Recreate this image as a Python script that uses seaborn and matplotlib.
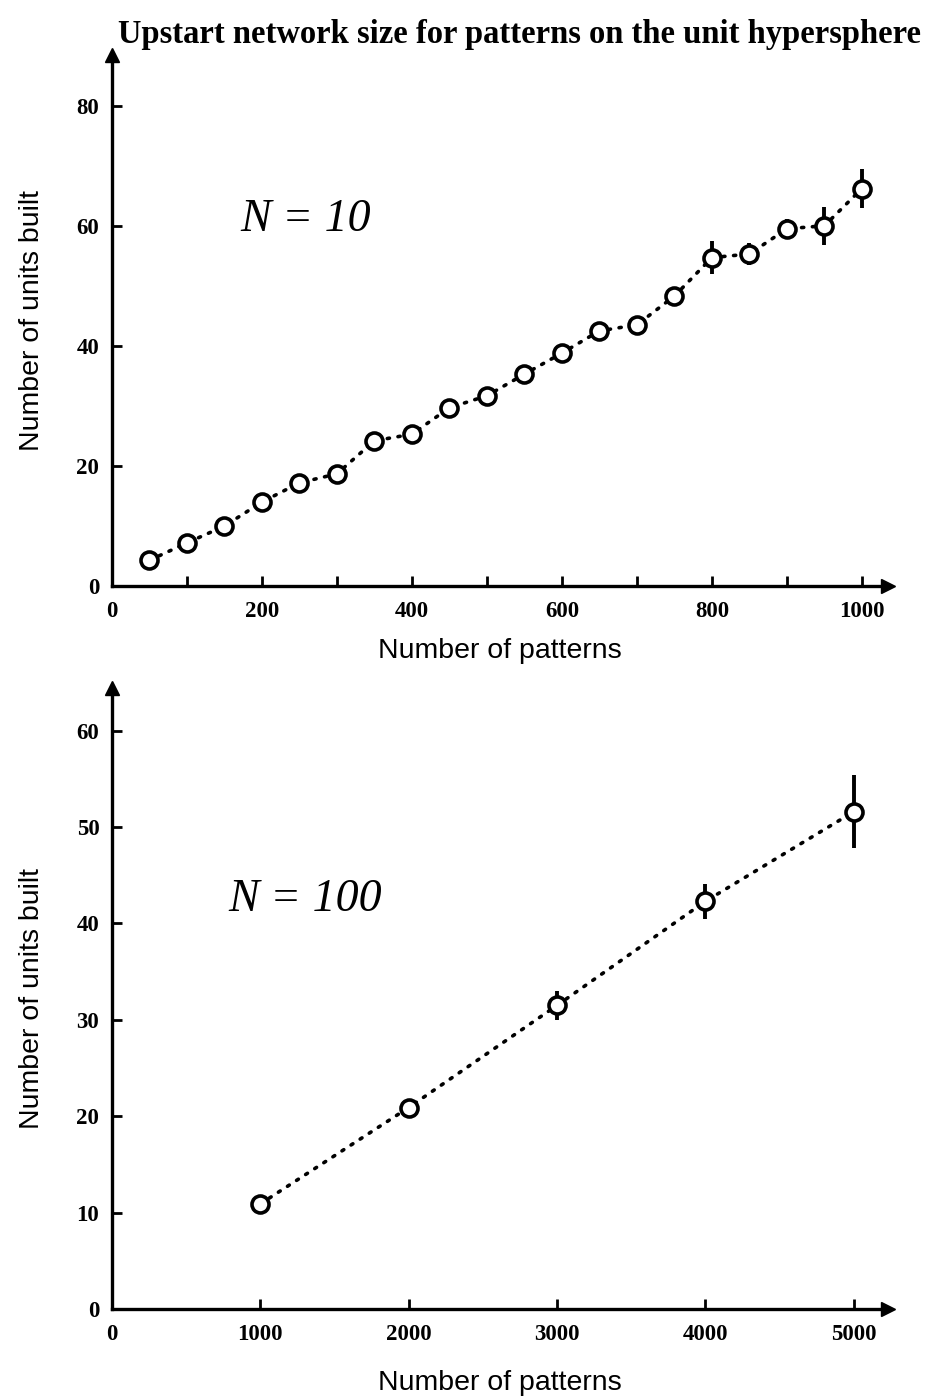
import matplotlib
matplotlib.use("Agg")
import matplotlib.pyplot as plt
import seaborn as sns
import pandas as pd

# ---- data ----
patterns_n10 = [50, 100, 150, 200, 250, 300, 350, 400, 450, 500,
                550, 600, 650, 700, 750, 800, 850, 900, 950, 1000]
units_n10 = [4.3, 7.2, 10.0, 14.0, 17.2, 18.7, 24.2, 25.3, 29.7, 31.7,
             35.3, 38.8, 42.5, 43.5, 48.3, 54.7, 55.3, 59.5, 60.0, 66.2]
err_n10 = [0.4, 0.4, 0.4, 0.5, 0.5, 0.5, 0.5, 0.5, 0.5, 0.5,
           0.5, 0.6, 0.6, 1.0, 1.0, 2.7, 1.9, 1.6, 3.2, 3.2]

patterns_n100 = [1000, 2000, 3000, 4000, 5000]
units_n100 = [10.9, 20.9, 31.5, 42.3, 51.6]
err_n100 = [0.3, 0.8, 1.5, 1.8, 3.8]

xticks_top = [0, 200, 400, 600, 800, 1000]
yticks_top = [0, 20, 40, 60, 80]
xticks_bot = [0, 1000, 2000, 3000, 4000, 5000]
yticks_bot = [0, 10, 20, 30, 40, 50, 60]

title = "Upstart network size for patterns on the unit hypersphere"
xlabel = "Number of patterns"
ylabel = "Number of units built"

sns.set_theme(style="white")
plt.rcParams["font.family"] = ["Liberation Sans", "DejaVu Sans"]
plt.rcParams["text.color"] = "black"
plt.rcParams["axes.labelcolor"] = "black"
plt.rcParams["xtick.color"] = "black"
plt.rcParams["ytick.color"] = "black"

fig = plt.figure(figsize=(9.32, 13.99), dpi=100)
ax1 = fig.add_axes([0.120, 0.581, 0.833, 0.380])
ax2 = fig.add_axes([0.120, 0.0643, 0.833, 0.4437])

serif = ["Liberation Serif", "DejaVu Serif"]


def draw(ax, xs, ys, es, xlim, ylim, xticks, yticks, minor_x, label,
         label_xy, xlabelpad):
    df = pd.DataFrame({"x": xs, "y": ys})
    sns.lineplot(data=df, x="x", y="y", ax=ax, color="black",
                 linestyle=(0, (0.6, 2.4)), linewidth=2.6,
                 dash_capstyle="round", zorder=2)
    ax.errorbar(xs, ys, yerr=es, fmt="none", ecolor="black",
                elinewidth=2.8, capsize=0, zorder=3)
    sns.scatterplot(data=df, x="x", y="y", ax=ax, marker="o", s=150,
                    facecolor="white", edgecolor="black", linewidth=2.6,
                    zorder=4)
    ax.set_xlim(*xlim)
    ax.set_ylim(*ylim)
    for s in ["top", "right"]:
        ax.spines[s].set_visible(False)
    for s in ["left", "bottom"]:
        ax.spines[s].set_linewidth(2.4)
        ax.spines[s].set_color("black")
    ax.set_xticks(xticks)
    ax.set_yticks(yticks)
    ax.set_xticklabels([str(t) for t in xticks], fontfamily=serif,
                       fontweight="bold", fontsize=16.5)
    ax.set_yticklabels([str(t) for t in yticks], fontfamily=serif,
                       fontweight="bold", fontsize=16.5)
    if minor_x:
        ax.set_xticks(minor_x, minor=True)
    ax.tick_params(axis="both", which="both", direction="in", length=7,
                   width=2.0, color="black", left=True, bottom=True)
    ax.tick_params(axis="x", pad=11)
    ax.tick_params(axis="y", pad=9)
    ax.set_xlabel(xlabel, fontsize=20.5, color="black", labelpad=xlabelpad)
    ax.set_ylabel(ylabel, fontsize=20.5, color="black", labelpad=23)
    # axis arrows
    ax.plot(1, 0, ">", transform=ax.transAxes, color="black",
            markersize=10, clip_on=False)
    ax.plot(0, 1, "^", transform=ax.transAxes, color="black",
            markersize=10, clip_on=False)
    ax.text(label_xy[0], label_xy[1], label, transform=ax.transAxes,
            fontfamily=serif, fontstyle="italic", fontsize=33,
            ha="left", va="center", color="black")


draw(ax1, patterns_n10, units_n10, err_n10, (0, 1035), (0, 88.5),
     xticks_top, yticks_top, [100, 300, 500, 700, 900],
     "N = 10", (0.165, 0.69), 11)
draw(ax2, patterns_n100, units_n100, err_n100, (0, 5232), (0, 64.4),
     xticks_bot, yticks_bot, None,
     "N = 100", (0.15, 0.66), 18)

fig.text(0.557, 0.975, title, ha="center", va="center",
         fontfamily=serif, fontweight="bold", fontsize=23.5, color="black")

fig.savefig("out.png", dpi=100, facecolor="white")
